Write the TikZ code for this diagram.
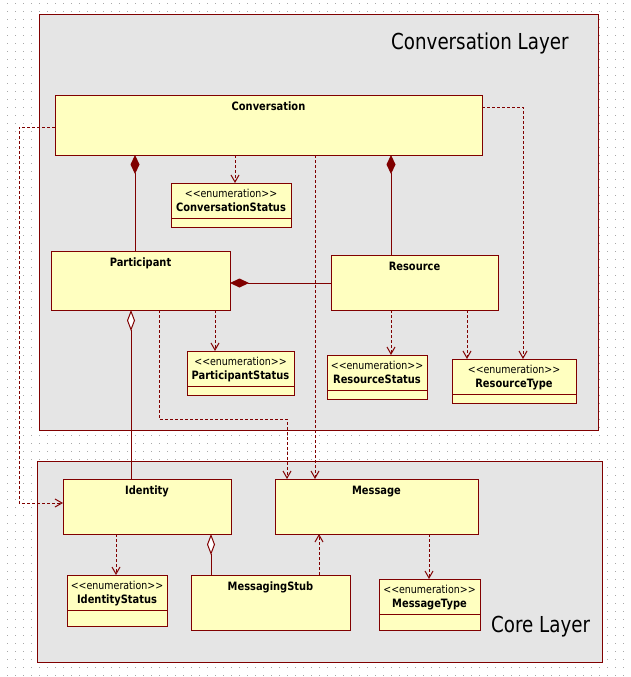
\documentclass[tikz,border=0pt]{standalone}
\usepackage{fontspec}
\setmainfont{DejaVu Sans}
\newfontfamily\uifont[FakeStretch=0.86]{DejaVu Sans}
\newfontfamily\layerfont[FakeStretch=0.83]{DejaVu Sans}
\usetikzlibrary{arrows.meta,calc}
\definecolor{umlred}{HTML}{800000}
\definecolor{layerbg}{HTML}{E5E5E5}
\definecolor{classbg}{HTML}{FFFFC0}
\definecolor{gridgray}{HTML}{A8A8A8}
\newcommand{\umlenum}[6]{%
  \node[cls, minimum width=#4pt, minimum height=#5pt] (#1) at (#2,#3) {};
  \node[stereo] (#1-st) at ($(#1.north)+(0,14)$) {<\kern0pt<enumeration>\kern0pt>};
  \node[cname] (#1-nm) at ($(#1.north)+(0,28)$) {#6};
  \draw[umlred, line width=1pt] ($(#1.north west)+(0,35)$) -- ($(#1.north east)+(0,35)$);
}
\begin{document}
\begin{tikzpicture}[x=1pt,y=-1pt,
  layer/.style={draw=umlred, fill=layerbg, line width=1pt, anchor=north west, inner sep=0pt, outer sep=0pt},
  cls/.style={draw=umlred, fill=classbg, line width=1pt, anchor=north west, inner sep=0pt, outer sep=0pt},
  cname/.style={font=\uifont\bfseries\fontsize{11.5}{13}\selectfont, anchor=base, inner sep=0pt},
  stereo/.style={font=\uifont\fontsize{11}{13}\selectfont, anchor=base, inner sep=0pt},
  ltitle/.style={font=\layerfont\fontsize{22}{26}\selectfont, anchor=base west, inner sep=0pt},
  dep/.style={draw=umlred, line width=1pt, dash pattern=on 3pt off 2pt, -{Straight Barb[length=7pt,width=8pt]}},
  compo/.style={draw=umlred, line width=1pt, -{Diamond[length=19pt,width=9pt]}},
  aggr/.style={draw=umlred, line width=1pt, -{Diamond[open,length=21pt,width=8pt,fill=white]}},
]
\useasboundingbox (0,0) rectangle (631,677);
\fill[white] (0,0) rectangle (631,677);
% dotted grid
\foreach \yy in {3,11,...,675} {
  \draw[gridgray, line width=1pt, dash pattern=on 1pt off 7pt] (7,\yy+0.5) -- (631,\yy+0.5);
}
% layers
\node[layer, minimum width=559pt, minimum height=415pt] (convlayer) at (39,15) {};
\node[layer, minimum width=565pt, minimum height=201pt] (corelayer) at (37,461) {};
\node[ltitle] (convtitle) at (391,49) {Conversation Layer};
\node[ltitle] (coretitle) at (491,632) {Core Layer};

% helper coordinates
\foreach \hx in {19,116,131,135,159,211,215,235,287,315,319,391,429,467,523} {
  \coordinate (h\hx) at (\hx,0);
}
\foreach \vy in {107,127,283,419,503} {
  \coordinate (v\vy) at (0,\vy);
}

% classes
\node[cls, minimum width=427pt, minimum height=60pt] (conv) at (55,95) {};
\node[cname] (conv-nm) at ($(conv.north)+(0,15)$) {Conversation};
\node[cls, minimum width=179pt, minimum height=59pt] (part) at (51,251) {};
\node[cname] (part-nm) at ($(part.north)+(0,15)$) {Participant};
\node[cls, minimum width=167pt, minimum height=55pt] (res) at (331,255) {};
\node[cname] (res-nm) at ($(res.north)+(0,15)$) {Resource};
\node[cls, minimum width=168pt, minimum height=55pt] (ident) at (63,479) {};
\node[cname] (ident-nm) at ($(ident.north)+(0,15)$) {Identity};
\node[cls, minimum width=203pt, minimum height=55pt] (msg) at (275,479) {};
\node[cname] (msg-nm) at ($(msg.north)+(0,15)$) {Message};
\node[cls, minimum width=159pt, minimum height=55pt] (stub) at (191,575) {};
\node[cname] (stub-nm) at ($(stub.north)+(0,15)$) {MessagingStub};

\umlenum{convstatus}{171}{183}{120}{44}{ConversationStatus}
\umlenum{partstatus}{187}{351}{107}{44}{ParticipantStatus}
\umlenum{resstatus}{327}{355}{100}{44}{ResourceStatus}
\umlenum{restype}{452}{359}{124}{44}{ResourceType}
\umlenum{identstatus}{67}{575}{100}{51}{IdentityStatus}
\umlenum{msgtype}{379}{579}{101}{51}{MessageType}

% compositions / aggregations
\draw[compo] (part.north -| h135) -- (conv.south -| h135);
\draw[compo] (res.north -| h391) -- (conv.south -| h391);
\draw[compo] (res.west |- v283) -- (part.east |- v283);
\draw[aggr] (ident.north -| h131) -- (part.south -| h131);
\draw[aggr] (stub.north -| h211) -- (ident.south -| h211);

% dependencies
\draw[dep] (conv.south -| h235) -- (convstatus.north -| h235);
\draw[dep] (conv.east |- v107) -| (restype.north -| h523);
\draw[dep] (conv.south -| h315) -- (msg.north -| h315);
\draw[dep] (conv.west |- v127) -| (h19 |- v503) -- (ident.west |- v503);
\draw[dep] (part.south -| h215) -- (partstatus.north -| h215);
\draw[dep] (part.south -| h159) |- (h287 |- v419) -- (msg.north -| h287);
\draw[dep] (res.south -| h391) -- (resstatus.north -| h391);
\draw[dep] (res.south -| h467) -- (restype.north -| h467);
\draw[dep] (ident.south -| h116) -- (identstatus.north -| h116);
\draw[dep] (stub.north -| h319) -- (msg.south -| h319);
\draw[dep] (msg.south -| h429) -- (msgtype.north -| h429);
\end{tikzpicture}
\end{document}
